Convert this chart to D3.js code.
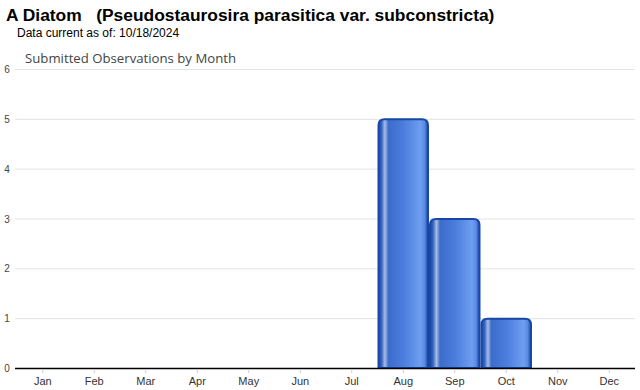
<!DOCTYPE html>
<html>
<head>
<meta charset="utf-8">
<script src="https://cdnjs.cloudflare.com/ajax/libs/d3/7.8.5/d3.min.js"></script>
<style>
body { margin: 0; background: #fff; }
svg { display: block; font-family: Arial, "Liberation Sans", sans-serif; }
</style>
</head>
<body>
<svg id="chart" width="640" height="390"></svg>
<script>
var months = ["Jan", "Feb", "Mar", "Apr", "May", "Jun", "Jul", "Aug", "Sep", "Oct", "Nov", "Dec"];
var counts = [0, 0, 0, 0, 0, 0, 0, 5, 3, 1, 0, 0];
var yTicks = [0, 1, 2, 3, 4, 5, 6];

var svg = d3.select("#chart");
var plotLeft = 17, plotRight = 635, plotTop = 69, plotBottom = 368;

var x = d3.scaleBand().domain(months).range([plotLeft, plotRight]).paddingInner(0.02).paddingOuter(0.01);
var y = d3.scaleLinear().domain([0, 6]).range([plotBottom, plotTop]);

// gradient for the bars
var defs = svg.append("defs");
var grad = defs.append("linearGradient").attr("id", "barGrad")
	.attr("x1", "0%").attr("x2", "100%").attr("y1", "0%").attr("y2", "0%");
var stops = [
	[0, "#1d4aa8"], [0.06, "#3363c4"], [0.13, "#a9bde3"], [0.2, "#3c6ccc"],
	[0.5, "#4a7ddc"], [0.85, "#6e9ef0"], [0.93, "#5a8ae4"], [1, "#1d4aa8"]
];
stops.forEach(function(s){
	grad.append("stop").attr("offset", s[0]).attr("stop-color", s[1]);
});

// title texts
svg.append("text")
	.attr("x", 6).attr("y", 21)
	.attr("font-size", "17.4px").attr("font-weight", "bold")
	.style("white-space", "pre")
	.text("A Diatom   (Pseudostaurosira parasitica var. subconstricta)");
svg.append("text")
	.attr("x", 17).attr("y", 37)
	.attr("font-size", "12px")
	.text("Data current as of: 10/18/2024");
svg.append("text")
	.attr("x", 25).attr("y", 63)
	.attr("font-size", "13.2px").attr("fill", "#444")
	.attr("font-family", "'Open Sans', sans-serif")
	.text("Submitted Observations by Month");

// gridlines
svg.selectAll(".grid")
	.data(yTicks.filter(function(d){ return d > 0; }))
	.enter().append("line")
	.attr("class", "grid")
	.attr("x1", 15).attr("x2", plotRight)
	.attr("y1", function(d){ return y(d) + 0.5; })
	.attr("y2", function(d){ return y(d) + 0.5; })
	.attr("stroke", "#e3e3e3").attr("stroke-width", 1);

// y labels
svg.selectAll(".ylab")
	.data(yTicks)
	.enter().append("text")
	.attr("class", "ylab")
	.attr("x", 7)
	.attr("y", function(d){ return y(d) + 4; })
	.attr("font-size", "10px").attr("fill", "#444")
	.attr("text-anchor", "middle")
	.text(function(d){ return d; });

// bars with rounded tops
var r = 6;
svg.selectAll(".bar")
	.data(months.map(function(m, i){ return {month: m, value: counts[i]}; }).filter(function(d){ return d.value > 0; }))
	.enter().append("path")
	.attr("class", "bar")
	.attr("d", function(d){
		var x0 = x(d.month) + 0.5, x1 = x(d.month) + x.bandwidth() - 0.5;
		var y0 = y(d.value) + 0.5, y1 = plotBottom;
		return "M" + x0 + "," + y1 + "L" + x0 + "," + (y0 + r) +
			"Q" + x0 + "," + y0 + " " + (x0 + r) + "," + y0 +
			"L" + (x1 - r) + "," + y0 +
			"Q" + x1 + "," + y0 + " " + x1 + "," + (y0 + r) +
			"L" + x1 + "," + y1 + "Z";
	})
	.attr("fill", "url(#barGrad)")
	.attr("stroke", "#1847a4").attr("stroke-width", 2);

// x axis
svg.append("line")
	.attr("x1", 15).attr("x2", plotRight)
	.attr("y1", plotBottom + 0.5).attr("y2", plotBottom + 0.5)
	.attr("stroke", "#000").attr("stroke-width", 1.5);

svg.selectAll(".xtick")
	.data(months)
	.enter().append("line")
	.attr("class", "xtick")
	.attr("x1", function(d){ return x(d) + x.bandwidth() / 2; })
	.attr("x2", function(d){ return x(d) + x.bandwidth() / 2; })
	.attr("y1", plotBottom + 1).attr("y2", plotBottom + 5)
	.attr("stroke", "#ccc");

svg.selectAll(".xlab")
	.data(months)
	.enter().append("text")
	.attr("class", "xlab")
	.attr("x", function(d){ return x(d) + x.bandwidth() / 2; })
	.attr("y", 385)
	.attr("text-anchor", "middle")
	.attr("font-size", "11px").attr("fill", "#333")
	.text(function(d){ return d; });
</script>
</body>
</html>
